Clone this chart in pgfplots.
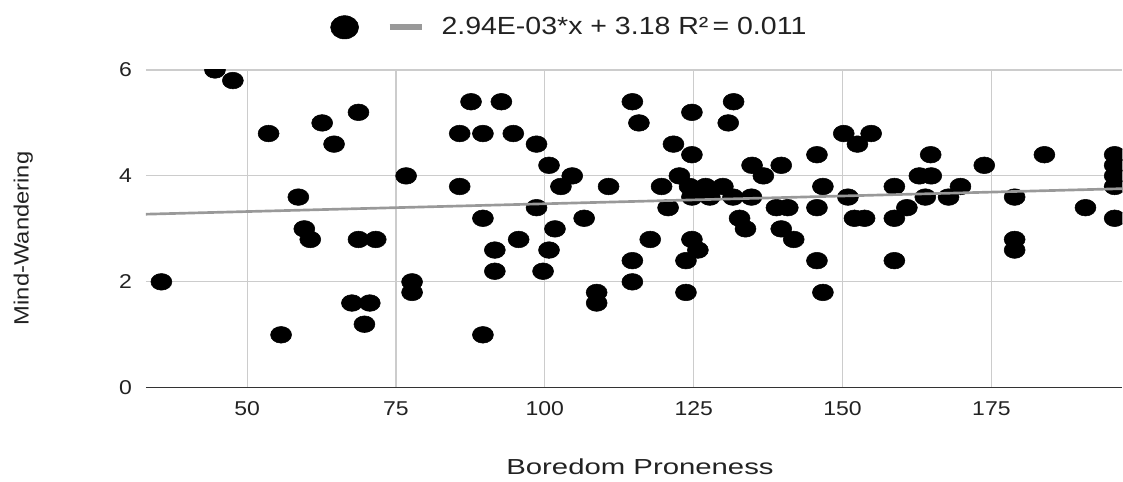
\documentclass[border=0pt]{standalone}
\usepackage{pgfplots}
\pgfplotsset{compat=1.18}
\usepackage{fontspec}
\setmainfont{Liberation Sans}[FakeStretch=1.15]
\newfontfamily\xtitlefont{Liberation Sans}[FakeStretch=1.35]
\definecolor{gridgray}{HTML}{CCCCCC}
\definecolor{trendgray}{HTML}{999999}
\definecolor{axisgray}{HTML}{333333}
\definecolor{textgray}{HTML}{222222}
\begin{document}
\begin{tikzpicture}
\begin{axis}[
  scale only axis, width=732.75pt, height=238.5pt,
  xmin=33, xmax=197, ymin=0, ymax=6,
  xtick={50,75,100,125,150,175}, ytick={0,2,4,6},
  grid=major, major grid style={draw=gridgray, line width=0.9pt},
  axis line style={draw=none},
  major tick length=0pt,
  clip marker paths=true,
  /pgf/number format/assume math mode=true,
  ticklabel style={font=\fontsize{15}{18}\selectfont, text=textgray},
  yticklabel style={xshift=-7pt},
  xticklabel style={yshift=-7pt},
  every axis x label/.style={at={(axis description cs:0.506,-0.2474)}, anchor=center},
  every axis y label/.style={at={(axis description cs:-0.1256,0.47)}, rotate=90, anchor=center},
  xlabel={\xtitlefont\fontsize{16.3}{19}\selectfont Boredom Proneness},
  ylabel={\fontsize{15.5}{18}\selectfont Mind-Wandering},
  label style={text=textgray},
  legend style={at={(0.434,1)}, anchor=center, yshift=32pt, draw=none, fill=none,
    font=\fontsize{18.6}{21}\selectfont, text=textgray,
    /tikz/every even column/.append style={column sep=0pt}},
  legend columns=-1,
]
\addplot[only marks, mark=*, mark size=6.25pt, mark options={xscale=1.26, fill=black, draw=black},
  legend image code/.code={\fill[black] (0pt,0pt) ellipse [x radius=10.5pt, y radius=8.75pt];}]
coordinates {
(35.6,2.0) (44.6,6.0) (47.6,5.8) (53.6,4.8) (55.7,1.0) (58.6,3.6) (59.6,3.0) (60.6,2.8)
(62.6,5.0) (64.6,4.6) (67.6,1.6) (68.7,5.2) (68.7,2.8) (69.7,1.2) (70.6,1.6) (71.6,2.8)
(76.7,4.0) (77.7,2.0) (77.7,1.8) (85.7,4.8) (85.7,3.8) (87.6,5.4) (89.6,4.8) (89.6,3.2)
(89.6,1.0) (91.6,2.6) (91.6,2.2) (92.7,5.4) (94.7,4.8) (95.6,2.8) (98.6,4.6) (98.6,3.4)
(99.7,2.2) (100.7,4.2) (100.7,2.6) (101.7,3.0) (102.7,3.8) (104.6,4.0) (106.6,3.2) (108.7,1.8)
(108.7,1.6) (110.7,3.8) (114.7,5.4) (115.8,5.0) (114.7,2.4) (114.7,2.0) (117.7,2.8) (119.6,3.8)
(120.7,3.4) (121.6,4.6) (122.6,4.0) (124.3,3.8) (124.7,3.6) (124.7,5.2) (124.7,4.4) (124.7,2.8)
(125.7,2.6) (123.7,2.4) (123.7,1.8) (127.0,3.8) (127.7,3.6) (129.9,3.8) (131.6,3.6) (131.7,5.4)
(130.8,5.0) (132.7,3.2) (133.7,3.0) (134.7,3.6) (134.8,4.2) (136.7,4.0) (139.7,4.2) (138.9,3.4)
(140.8,3.4) (139.7,3.0) (141.8,2.8) (145.7,4.4) (146.7,3.8) (145.7,3.4) (145.7,2.4) (146.7,1.8)
(150.2,4.8) (152.5,4.6) (154.8,4.8) (150.9,3.6) (152.0,3.2) (153.7,3.2) (158.7,3.8) (158.7,3.2)
(160.8,3.4) (158.7,2.4) (164.8,4.4) (162.9,4.0) (164.9,4.0) (163.9,3.6) (167.8,3.6) (169.8,3.8)
(173.8,4.2) (178.9,3.6) (178.9,2.8) (178.9,2.6) (183.9,4.4) (190.8,3.4) (195.7,4.4) (195.7,4.2)
(195.7,4.0) (195.7,3.8) (195.7,3.2)
};
\addlegendentry{}
\addplot[draw=trendgray, line width=2.0pt,
  legend image code/.code={\path (-18pt,0pt) (36pt,0pt); \draw[trendgray, line width=4.5pt] (0pt,0pt) -- (24pt,0pt);}]
coordinates {(33,3.277) (197,3.759)};
\addlegendentry{2.94E-03*x + 3.18 R²\,= 0.011}
\draw[axisgray, line width=1.3pt] (rel axis cs:0,0) -- (rel axis cs:1,0);
\coordinate (sw) at (rel axis cs:0,0);
\coordinate (ne) at (rel axis cs:1,1);
\end{axis}
\path[use as bounding box] ([shift={(-109.5pt,-70.5pt)}]sw) rectangle ([shift={(0pt,52.5pt)}]ne);
\end{tikzpicture}
\end{document}
